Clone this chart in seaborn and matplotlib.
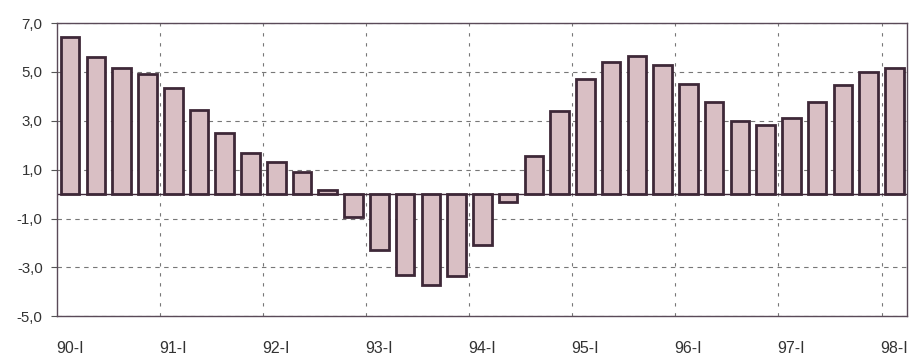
import matplotlib
matplotlib.use("Agg")
import matplotlib.pyplot as plt
import seaborn as sns
import pandas as pd
import numpy as np

# Quarterly growth rate, 1990-I to 1998-I (%)
years = ["90", "91", "92", "93", "94", "95", "96", "97", "98"]
quarters = ["I", "II", "III", "IV"]
growth = [6.45, 5.6, 5.15, 4.93, 4.33, 3.45, 2.5, 1.69, 1.3, 0.89,
          0.17, -0.95, -2.3, -3.32, -3.73, -3.36, -2.1, -0.33,
          1.55, 3.4, 4.7, 5.4, 5.67, 5.3, 4.5, 3.75, 3.0, 2.82,
          3.1, 3.75, 4.45, 5.0, 5.17]
period_labels = [f"{y}-{q}" for y in years for q in quarters][:len(growth)]
year_tick_labels = [f"{y}-I" for y in years]

df = pd.DataFrame({"period": period_labels, "growth": growth})

sns.set_theme(style="white")
plt.rcParams["font.family"] = ["Liberation Sans", "DejaVu Sans"]

fig = plt.figure(figsize=(9.10, 3.61), dpi=100)
ax = fig.add_axes([0.063, 0.124, 0.934, 0.812])

sns.barplot(data=df, x="period", y="growth", order=period_labels,
            color="#d9bfc4", saturation=1, edgecolor="#3e2838",
            linewidth=2.0, width=0.72, ax=ax)

ax.axhline(0, color="#3e2838", lw=1.0, zorder=1)

ax.set_xlim(-0.5, len(growth) - 0.5)
ax.set_ylim(-5, 7)
ax.set_yticks(np.arange(-5, 7.1, 2))
ax.set_yticklabels([f"{v:.1f}".replace(".", ",") for v in np.arange(-5, 7.1, 2)],
                   fontsize=10.8, color="#333333")

year_pos = list(range(0, len(growth), 4))
ax.set_xticks(year_pos)
ax.set_xticklabels(year_tick_labels[:len(year_pos)], fontsize=11.5, color="#333333")
ax.set_xticks([p - 0.5 for p in year_pos[1:]], minor=True)

ax.set_xlabel("")
ax.set_ylabel("")

ax.grid(False)
ax.yaxis.grid(True, which="major", color="#777777", linestyle=(0, (4, 4)), lw=0.8)
ax.xaxis.grid(True, which="minor", color="#777777", linestyle=(0, (3, 6)), lw=0.8)
ax.set_axisbelow(True)

ax.tick_params(axis="y", which="major", direction="out", length=4, width=0.8,
               color="#555555", pad=6.5, left=True)
ax.tick_params(axis="x", which="major", length=0, pad=18)
ax.tick_params(axis="x", which="minor", length=0)

for s in ax.spines.values():
    s.set_visible(True)
    s.set_color("#5a4a58")
    s.set_linewidth(1.0)

fig.savefig("out.png", dpi=100, facecolor="white")
